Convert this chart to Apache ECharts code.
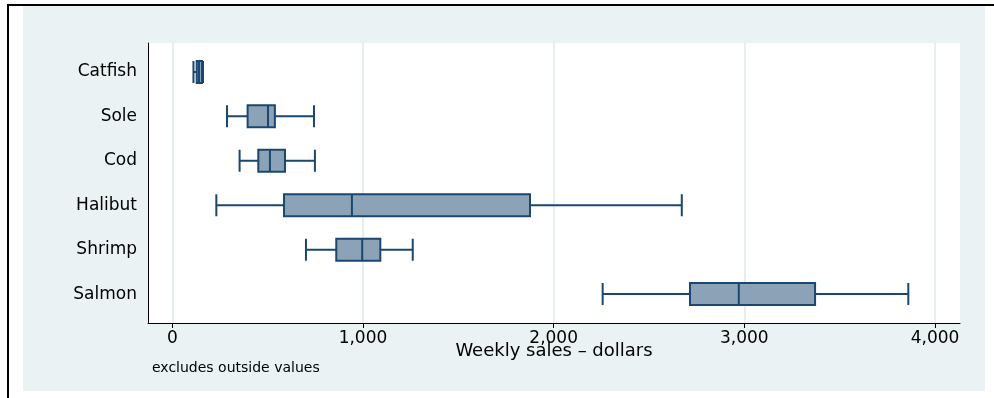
<!DOCTYPE html>
<html><head><meta charset="utf-8">
<script src="https://cdn.jsdelivr.net/npm/echarts@6/dist/echarts.min.js"></script>
<style>html,body{margin:0;padding:0;background:#fff}#c{width:994px;height:398px}</style>
</head><body><div id="c"></div>
<script>
const categories = ['Catfish', 'Sole', 'Cod', 'Halibut', 'Shrimp', 'Salmon'];
const lowWhisker = [111, 287, 353, 231, 701, 2257];
const q1 = [128, 395, 451, 586, 860, 2715];
const median = [140, 502, 512, 942, 996, 2971];
const q3 = [156, 538, 591, 1876, 1091, 3371];
const highWhisker = [161, 743, 748, 2672, 1261, 3860];
const xTicks = [0, 1000, 2000, 3000, 4000];
const xAxisTitle = 'Weekly sales \u2013 dollars';
const note = 'excludes outside values';

const rowIndex = categories.map((c, i) => i);
const boxData = categories.map((c, i) => [i, lowWhisker[i], q1[i], median[i], q3[i], highWhisker[i]]);

const FONT = 'DejaVu Sans';
const chart = echarts.init(document.getElementById('c'), null, {renderer: 'canvas'});
chart.setOption({
  animation: false,
  backgroundColor: '#ffffff',
  graphic: [
    {type: 'rect', z: -10, shape: {x: 23, y: 6, width: 962, height: 385}, style: {fill: '#eaf2f3'}, silent: true},
    {type: 'rect', z: -9, shape: {x: 7, y: 4, width: 987, height: 2}, style: {fill: '#000'}, silent: true},
    {type: 'rect', z: -9, shape: {x: 7, y: 4, width: 2, height: 394}, style: {fill: '#000'}, silent: true}
  ],
  title: {
    text: note, left: 152, top: 361, padding: 0,
    textStyle: {fontFamily: FONT, fontSize: 14, fontWeight: 'normal', color: '#000'}
  },
  grid: {
    left: 148, right: 34, top: 43, bottom: 75,
    show: true, backgroundColor: '#ffffff', borderWidth: 0, containLabel: false
  },
  xAxis: {
    type: 'value', min: -127.4, max: 4131.1,
    name: xAxisTitle, nameLocation: 'middle', nameGap: 19, nameMoveOverlap: false,
    nameTextStyle: {fontFamily: FONT, fontSize: 18, color: '#000', verticalAlign: 'top'},
    axisLine: {show: true, onZero: false, lineStyle: {color: '#000', width: 1}},
    axisTick: {show: true, customValues: xTicks, length: 5, lineStyle: {color: '#000', width: 1}},
    axisLabel: {customValues: xTicks, margin: 7, fontFamily: FONT, fontSize: 17, color: '#000',
      formatter: v => Number(v).toLocaleString('en-US')},
    splitLine: {show: true, lineStyle: {color: '#e6eef0', width: 2}}
  },
  yAxis: {
    type: 'value', inverse: true, min: -0.65, max: 5.65,
    axisLine: {show: true, onZero: false, lineStyle: {color: '#000', width: 1}},
    axisTick: {show: false, customValues: rowIndex},
    axisLabel: {customValues: rowIndex, margin: 11, fontFamily: FONT, fontSize: 17, color: '#000',
      formatter: v => categories[Math.round(v)] || ''},
    splitLine: {show: false}
  },
  series: [{
    type: 'boxplot',
    layout: 'vertical',
    boxWidth: [22, 22],
    itemStyle: {color: '#8ca3b7', borderColor: '#1a476f', borderWidth: 2},
    emphasis: {disabled: true},
    data: boxData
  }]
});
</script></body></html>
